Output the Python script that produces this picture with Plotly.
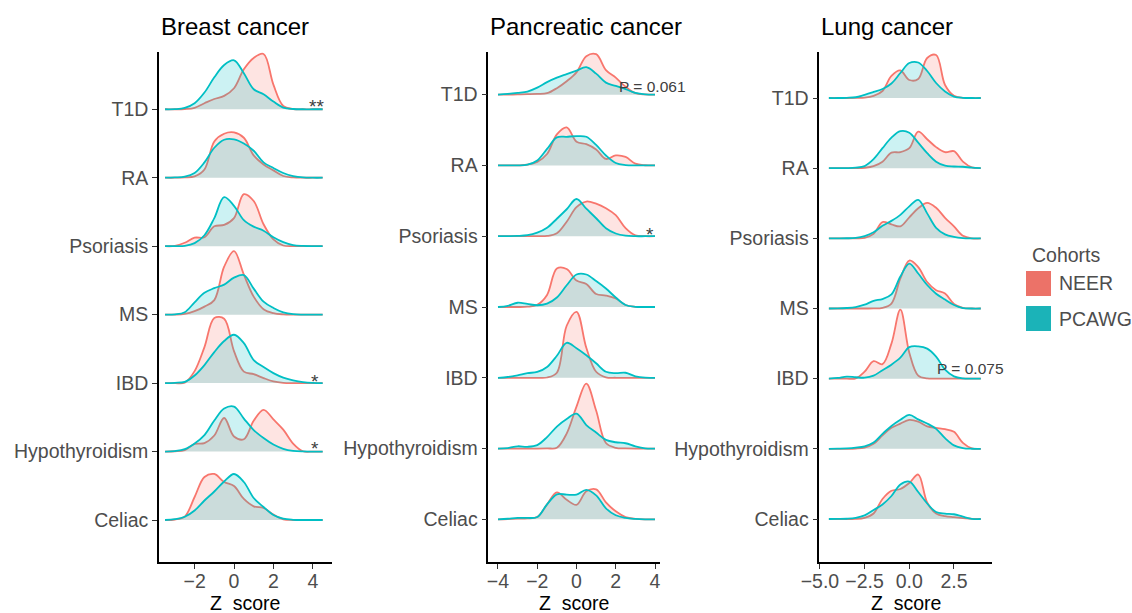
import plotly.graph_objects as go

W, H = 1132, 613
FONT = "Liberation Sans, Arial, Helvetica, sans-serif"

# ---------------- data ----------------
DISEASES = ["T1D", "RA", "Psoriasis", "MS", "IBD", "Hypothyroidism", "Celiac"]
Y_LEVELS = [7, 6, 5, 4, 3, 2, 1]
COHORTS = ["NEER", "PCAWG"]
PANEL_TITLES = ["Breast cancer", "Pancreatic cancer", "Lung cancer"]

# Z-score grids (x) for each panel
BREAST_Z = [-3.5, -3.0, -2.5, -2.0, -1.5, -1.0, -0.5, 0.0, 0.5, 1.0, 1.5, 2.0, 2.5, 3.0, 3.5, 4.0, 4.5]
PANCREATIC_Z = [-4.0, -3.5, -3.0, -2.5, -2.0, -1.5, -1.0, -0.5, 0.0, 0.5, 1.0, 1.5, 2.0, 2.5, 3.0, 3.5, 4.0]
LUNG_Z = [-4.5, -4.0, -3.5, -3.0, -2.5, -2.0, -1.5, -1.0, -0.5, 0.0, 0.5, 1.0, 1.5, 2.0, 2.5, 3.0, 3.5, 4.0]

# scaled ridge densities (in row units)
BREAST_NEER = {
    "T1D":            [0, 0, 0.004, 0.022, 0.088, 0.15, 0.195, 0.307, 0.584, 0.75, 0.808, 0.36, 0.048, 0.004, 0, 0, 0],
    "RA":             [0, 0, 0.004, 0.019, 0.12, 0.53, 0.643, 0.662, 0.584, 0.326, 0.194, 0.107, 0.025, 0.004, 0, 0, 0],
    "Psoriasis":      [0, 0.004, 0.05, 0.124, 0.13, 0.29, 0.31, 0.41, 0.76, 0.66, 0.32, 0.1, 0.01, 0, 0, 0, 0],
    "MS":             [0, 0, 0.01, 0.05, 0.117, 0.212, 0.70, 0.928, 0.584, 0.263, 0.08, 0.022, 0.004, 0, 0, 0, 0],
    "IBD":            [0, 0, 0.007, 0.175, 0.526, 0.95, 0.94, 0.467, 0.168, 0.13, 0.073, 0.025, 0.004, 0, 0, 0, 0],
    "Hypothyroidism": [0, 0.004, 0.022, 0.11, 0.124, 0.234, 0.49, 0.22, 0.18, 0.45, 0.61, 0.47, 0.32, 0.117, 0.004, 0, 0],
    "Celiac":         [0, 0.007, 0.05, 0.336, 0.628, 0.672, 0.555, 0.497, 0.307, 0.2, 0.175, 0.08, 0.01, 0, 0, 0, 0],
}
BREAST_PCAWG = {
    "T1D":            [0, 0.002, 0.02, 0.088, 0.244, 0.467, 0.647, 0.716, 0.526, 0.292, 0.219, 0.112, 0.025, 0.004, 0, 0, 0],
    "RA":             [0, 0.004, 0.015, 0.069, 0.224, 0.438, 0.555, 0.56, 0.5, 0.394, 0.224, 0.142, 0.069, 0.025, 0.004, 0, 0],
    "Psoriasis":      [0, 0, 0.004, 0.044, 0.16, 0.41, 0.716, 0.59, 0.38, 0.285, 0.226, 0.13, 0.058, 0.015, 0.003, 0, 0],
    "MS":             [0, 0.004, 0.036, 0.18, 0.32, 0.387, 0.438, 0.54, 0.577, 0.38, 0.19, 0.098, 0.034, 0.006, 0, 0, 0],
    "IBD":            [0, 0.004, 0.018, 0.11, 0.263, 0.453, 0.614, 0.706, 0.584, 0.336, 0.234, 0.146, 0.08, 0.041, 0.015, 0.003, 0],
    "Hypothyroidism": [0, 0.007, 0.034, 0.117, 0.24, 0.453, 0.628, 0.657, 0.482, 0.314, 0.197, 0.102, 0.04, 0.01, 0.001, 0, 0],
    "Celiac":         [0, 0.012, 0.047, 0.139, 0.285, 0.416, 0.562, 0.672, 0.555, 0.321, 0.19, 0.073, 0.019, 0.003, 0, 0, 0],
}
PANCREATIC_NEER = {
    "T1D":            [0, 0.001, 0.004, 0.007, 0.011, 0.021, 0.092, 0.19, 0.315, 0.544, 0.572, 0.346, 0.24, 0.113, 0.021, 0.003, 0],
    "RA":             [0, 0, 0.001, 0.01, 0.05, 0.162, 0.438, 0.537, 0.335, 0.3, 0.226, 0.092, 0.141, 0.12, 0.025, 0.003, 0],
    "Psoriasis":      [0, 0, 0, 0, 0.001, 0.004, 0.042, 0.205, 0.41, 0.49, 0.46, 0.396, 0.297, 0.113, 0.011, 0, 0],
    "MS":             [0, 0, 0, 0.004, 0.031, 0.17, 0.544, 0.537, 0.374, 0.325, 0.184, 0.162, 0.12, 0.028, 0.003, 0, 0],
    "IBD":            [0, 0, 0, 0, 0, 0.004, 0.071, 0.735, 0.932, 0.424, 0.085, 0.007, 0, 0, 0, 0, 0],
    "Hypothyroidism": [0, 0, 0, 0, 0, 0.003, 0.011, 0.212, 0.593, 0.918, 0.537, 0.078, 0.011, 0.003, 0, 0, 0],
    "Celiac":         [0, 0.004, 0.01, 0.014, 0.032, 0.212, 0.381, 0.276, 0.205, 0.396, 0.424, 0.24, 0.113, 0.032, 0.007, 0, 0],
}
PANCREATIC_PCAWG = {
    "T1D":            [0, 0.01, 0.025, 0.044, 0.099, 0.177, 0.24, 0.29, 0.339, 0.389, 0.297, 0.17, 0.123, 0.078, 0.025, 0.004, 0],
    "RA":             [0, 0, 0.001, 0.011, 0.071, 0.233, 0.396, 0.405, 0.414, 0.405, 0.29, 0.141, 0.035, 0.006, 0, 0, 0],
    "Psoriasis":      [0, 0.001, 0.004, 0.014, 0.05, 0.12, 0.247, 0.381, 0.526, 0.389, 0.254, 0.113, 0.038, 0.007, 0, 0, 0],
    "MS":             [0, 0.017, 0.06, 0.043, 0.025, 0.047, 0.134, 0.307, 0.459, 0.459, 0.367, 0.261, 0.134, 0.028, 0.003, 0, 0],
    "IBD":            [0, 0.011, 0.035, 0.066, 0.082, 0.153, 0.311, 0.494, 0.417, 0.318, 0.205, 0.085, 0.066, 0.071, 0.021, 0.001, 0],
    "Hypothyroidism": [0, 0.007, 0.032, 0.025, 0.049, 0.162, 0.311, 0.417, 0.494, 0.332, 0.226, 0.123, 0.089, 0.075, 0.031, 0.003, 0],
    "Celiac":         [0, 0.008, 0.021, 0.02, 0.032, 0.212, 0.353, 0.349, 0.35, 0.417, 0.339, 0.155, 0.057, 0.02, 0.006, 0, 0],
}
LUNG_NEER = {
    "T1D":            [0, 0, 0, 0.001, 0.004, 0.029, 0.1, 0.314, 0.392, 0.257, 0.271, 0.57, 0.613, 0.185, 0.031, 0.003, 0, 0],
    "RA":             [0, 0, 0, 0.001, 0.006, 0.029, 0.093, 0.221, 0.228, 0.285, 0.52, 0.413, 0.3, 0.228, 0.242, 0.093, 0.011, 0],
    "Psoriasis":      [0, 0, 0, 0.001, 0.007, 0.064, 0.232, 0.2, 0.171, 0.299, 0.428, 0.506, 0.435, 0.292, 0.171, 0.036, 0, 0],
    "MS":             [0, 0, 0, 0, 0, 0.001, 0.01, 0.071, 0.428, 0.684, 0.591, 0.378, 0.261, 0.214, 0.064, 0.01, 0, 0],
    "IBD":            [0, 0, 0, 0.004, 0.1, 0.249, 0.207, 0.499, 0.983, 0.371, 0.043, 0.004, 0, 0, 0, 0, 0, 0],
    "Hypothyroidism": [0, 0, 0, 0.004, 0.017, 0.071, 0.192, 0.299, 0.359, 0.413, 0.389, 0.321, 0.299, 0.281, 0.242, 0.086, 0.007, 0],
    "Celiac":         [0, 0, 0, 0.001, 0.017, 0.078, 0.285, 0.402, 0.428, 0.513, 0.634, 0.235, 0.078, 0.04, 0.026, 0.014, 0.003, 0],
}
LUNG_PCAWG = {
    "T1D":            [0, 0, 0.003, 0.011, 0.046, 0.086, 0.128, 0.207, 0.356, 0.499, 0.506, 0.385, 0.214, 0.093, 0.021, 0.003, 0, 0],
    "RA":             [0, 0, 0.001, 0.007, 0.029, 0.128, 0.285, 0.435, 0.527, 0.506, 0.363, 0.214, 0.093, 0.036, 0.024, 0.02, 0.007, 0],
    "Psoriasis":      [0, 0, 0.001, 0.007, 0.033, 0.086, 0.178, 0.249, 0.335, 0.456, 0.549, 0.356, 0.15, 0.057, 0.021, 0.004, 0, 0],
    "MS":             [0, 0.001, 0.007, 0.021, 0.054, 0.11, 0.135, 0.2, 0.456, 0.641, 0.499, 0.335, 0.211, 0.128, 0.05, 0.007, 0, 0],
    "IBD":            [0.001, 0.01, 0.029, 0.02, 0.014, 0.043, 0.121, 0.2, 0.299, 0.449, 0.46, 0.428, 0.314, 0.128, 0.033, 0.004, 0, 0],
    "Hypothyroidism": [0, 0.003, 0.007, 0.017, 0.036, 0.09, 0.214, 0.325, 0.413, 0.485, 0.42, 0.361, 0.285, 0.152, 0.05, 0.011, 0.001, 0],
    "Celiac":         [0, 0.001, 0.004, 0.016, 0.051, 0.128, 0.207, 0.328, 0.492, 0.534, 0.385, 0.221, 0.1, 0.077, 0.068, 0.033, 0.003, 0],
}

X_TICK_VALUES = [[-2, 0, 2, 4], [-4, -2, 0, 2, 4], [-5, -2.5, 0, 2.5]]
X_TICK_LABELS = [["\u22122", "0", "2", "4"], ["\u22124", "\u22122", "0", "2", "4"],
                 ["\u22125.0", "\u22122.5", "0.0", "2.5"]]

# significance labels: (panel, disease, text)
SIG_LABELS = [(0, "T1D", "**"), (0, "IBD", "*"), (0, "Hypothyroidism", "*"),
              (1, "T1D", "P = 0.061"), (1, "Psoriasis", "*"), (2, "IBD", "P = 0.075")]

# ---------------- styling / layout ----------------
PANELS = [(BREAST_Z, BREAST_NEER, BREAST_PCAWG),
          (PANCREATIC_Z, PANCREATIC_NEER, PANCREATIC_PCAWG),
          (LUNG_Z, LUNG_NEER, LUNG_PCAWG)]

LINE_COLORS = {"NEER": "#F8766D", "PCAWG": "#00BFC4"}
FILL_COLORS = {"NEER": "rgba(248,118,109,0.2)", "PCAWG": "rgba(0,191,196,0.2)"}
KEY_COLORS = {"NEER": "#EC7268", "PCAWG": "#1BB3B8"}

X_DOM_PX = [(159.0, 331.7), (488.3, 660.0), (819.3, 991.7)]
Y_DOM_PX = (51.7, 562.3)
X_RANGES = [(-3.807, 4.959), (-4.493, 4.254), (-5.036, 4.611)]
Y_RANGES = [(0.382, 7.841), (0.393, 7.607), (0.383, 7.660)]

# label placement (data coords: z, y offset above the ridge baseline)
SIG_POS = [(4.21, 0.04), (4.11, 0.03), (4.11, 0.05), (3.85, 0.11), (3.74, 0.03), (3.42, 0.14)]


def fx(px):
    return px / W


def fy(py):
    return 1 - py / H


fig = go.Figure()

for p, (z, neer, pcawg) in enumerate(PANELS):
    sfx = "" if p == 0 else str(p + 1)
    for disease, level in zip(DISEASES, Y_LEVELS):
        for cohort, dens in (("NEER", neer), ("PCAWG", pcawg)):
            h = dens[disease]
            fig.add_trace(go.Scatter(
                x=z, y=[level] * len(z), mode="lines",
                line=dict(width=0, color="rgba(0,0,0,0)"),
                xaxis="x" + sfx, yaxis="y" + sfx, hoverinfo="skip", showlegend=False))
            fig.add_trace(go.Scatter(
                x=z, y=[level + v for v in h], mode="lines",
                line=dict(color=LINE_COLORS[cohort], width=1.8, shape="spline", smoothing=1.0),
                fill="tonexty", fillcolor=FILL_COLORS[cohort],
                xaxis="x" + sfx, yaxis="y" + sfx, hoverinfo="skip", showlegend=False))

    axis_common = dict(showline=True, linecolor="black", linewidth=1.5, ticks="outside",
                       ticklen=5, tickwidth=1.3, tickcolor="#333333", showgrid=False,
                       zeroline=False, fixedrange=True, automargin=False,
                       tickfont=dict(family=FONT, size=19.5, color="#4d4d4d"))
    fig.update_layout({
        "xaxis" + sfx: dict(domain=[fx(X_DOM_PX[p][0]), fx(X_DOM_PX[p][1])],
                            range=list(X_RANGES[p]), anchor="y" + sfx,
                            tickmode="array", tickvals=X_TICK_VALUES[p],
                            ticktext=X_TICK_LABELS[p], ticklabelstandoff=-4,
                            **axis_common),
        "yaxis" + sfx: dict(domain=[fy(Y_DOM_PX[1]), fy(Y_DOM_PX[0])],
                            range=list(Y_RANGES[p]), anchor="x" + sfx,
                            tickmode="array", tickvals=Y_LEVELS, ticktext=DISEASES,
                            **axis_common),
    })

annotations = []
for p, title in enumerate(PANEL_TITLES):
    annotations.append(dict(x=fx(X_DOM_PX[p][0]), y=fy(26.5), xref="paper", yref="paper",
                            text=title, showarrow=False, xanchor="left", yanchor="middle",
                            font=dict(family=FONT, size=24, color="black")))
    annotations.append(dict(x=fx((X_DOM_PX[p][0] + X_DOM_PX[p][1]) / 2), y=fy(602.5),
                            xref="paper", yref="paper", text="Z\u00a0\u00a0score",
                            showarrow=False, xanchor="center", yanchor="middle",
                            font=dict(family=FONT, size=19.5, color="black")))

for (p, disease, text), (zx, dy) in zip(SIG_LABELS, SIG_POS):
    sfx = "" if p == 0 else str(p + 1)
    level = Y_LEVELS[DISEASES.index(disease)]
    size = 19 if "*" in text else 15.5
    annotations.append(dict(x=zx, y=level + dy, xref="x" + sfx, yref="y" + sfx, text=text,
                            showarrow=False, xanchor="center", yanchor="middle",
                            font=dict(family=FONT, size=size, color="#404040")))

# legend
annotations.append(dict(x=fx(1030), y=fy(255), xref="paper", yref="paper", text="Cohorts",
                        showarrow=False, xanchor="left", yanchor="middle",
                        font=dict(family=FONT, size=19.5, color="#4d4d4d")))
shapes = []
for i, cohort in enumerate(COHORTS):
    top = 271 + i * 35
    shapes.append(dict(type="rect", xref="paper", yref="paper",
                       x0=fx(1026), x1=fx(1051), y0=fy(top + 25), y1=fy(top),
                       fillcolor=KEY_COLORS[cohort], line=dict(width=0)))
    annotations.append(dict(x=fx(1056.5), y=fy(top + 12.5), xref="paper", yref="paper",
                            text=cohort, showarrow=False, xanchor="left", yanchor="middle",
                            font=dict(family=FONT, size=19.5, color="#4d4d4d")))

fig.update_layout(width=W, height=H,
                  margin=dict(l=0, r=0, t=0, b=0, pad=0, autoexpand=False),
                  paper_bgcolor="white", plot_bgcolor="white", showlegend=False,
                  annotations=annotations, shapes=shapes,
                  font=dict(family=FONT))

fig.write_html("out.html")
